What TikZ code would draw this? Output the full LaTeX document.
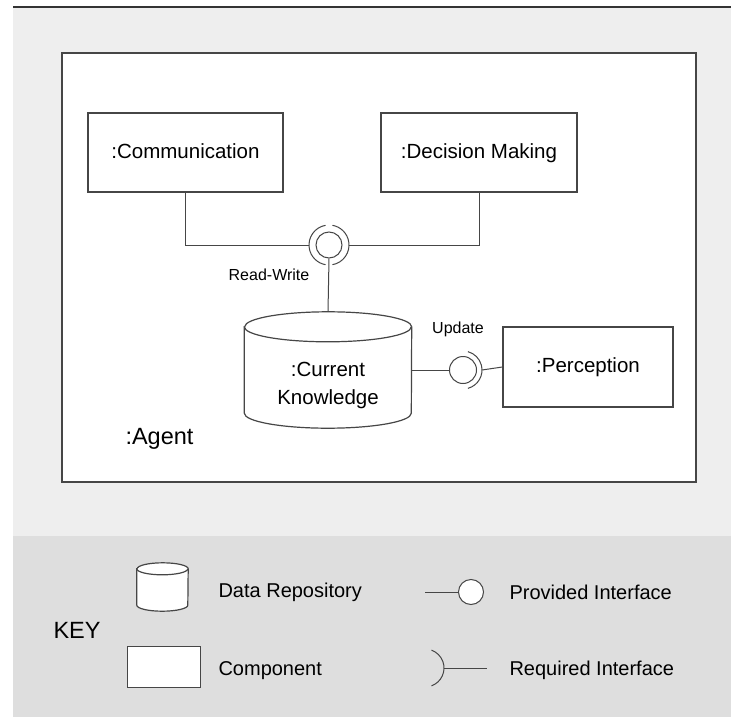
\documentclass[tikz,border=0pt]{standalone}
\usepackage{fontspec}
\setmainfont{Liberation Sans}
\usetikzlibrary{positioning}

\definecolor{panelgrey}{RGB}{238,238,238}
\definecolor{keygrey}{RGB}{222,222,222}
\definecolor{linegrey}{RGB}{70,70,70}

% cylinder outline round a node: node name, x radius, y radius of the caps
\newcommand{\drawrepo}[3]{%
    \filldraw[repoline] ([yshift=-#3]#1.north west) -- ([yshift=#3]#1.south west)
        arc[start angle=180, end angle=360, x radius=#2, y radius=#3]
        -- ([yshift=-#3]#1.north east)
        arc[start angle=0, end angle=180, x radius=#2, y radius=#3] -- cycle;
    \draw[repoline] ([yshift=-#3]#1.north west)
        arc[start angle=180, end angle=360, x radius=#2, y radius=#3];
}

\begin{document}
\begin{tikzpicture}[
        x=1pt, y=1pt,
        comp/.style={rectangle, draw=linegrey, fill=white, line width=1.3pt, inner sep=0pt, text height=15pt, text depth=4pt, font=\fontsize{20.5}{24}\selectfont},
        repo/.style={rectangle, inner sep=0pt},
        repoline/.style={draw=linegrey, fill=white, line width=1.2pt},
        ball/.style={circle, draw=linegrey, fill=white, line width=1pt, inner sep=0pt},
        wire/.style={draw=linegrey, line width=1pt},
        small/.style={font=\fontsize{16}{19}\selectfont},
        big/.style={font=\fontsize{23.5}{28}\selectfont, anchor=base west},
        keytext/.style={font=\fontsize{20}{24}\selectfont, anchor=base west}
    ]
    \useasboundingbox (0,0) rectangle (731,-717);
    % background panels
    \fill[panelgrey] (13,-7) rectangle (731,-536);
    \fill[keygrey] (13,-536) rectangle (731,-717);
    \draw[line width=1.5pt, black!80] (13,-7) -- (731,-7);

    % the agent and its parts
    \node[comp, minimum width=634pt, minimum height=429pt, line width=1.5pt] (agent) at (379,-267.5) {};
    \node[big] (agentname) at (122,-444) {:Agent};

    \node[comp, minimum width=195pt, minimum height=79pt] (comm) at (185.5,-152.5) {:Communication};
    \node[comp, minimum width=196pt, minimum height=79pt] (dec) at (479,-152.5) {:Decision Making};
    \node[comp, minimum width=170pt, minimum height=80pt] (perc) at (588,-367) {:Perception};
    \node[repo, minimum width=167pt, minimum height=116pt] (know) at (328,-370) {};
    \drawrepo{know}{83.5pt}{15pt}
    \node[font=\fontsize{20.5}{28}\selectfont, align=center] (knowtext) at (328,-385) {:Current\\Knowledge};

    % read-write interface
    \node[ball, minimum size=26pt] (rw) at (329,-245) {};
    \coordinate (rwl) at ([xshift=-20pt]rw.center);
    \coordinate (rwr) at ([xshift=20pt]rw.center);
    \draw[wire] ([shift={(100:20pt)}]rw.center) arc[start angle=100, end angle=260, radius=20pt];
    \draw[wire] ([shift={(-80:20pt)}]rw.center) arc[start angle=-80, end angle=80, radius=20pt];
    \node[small] (rwlabel) at (269,-275) {Read-Write};

    % update interface
    \node[ball, minimum size=27pt] (up) at (463,-370) {};
    \coordinate (upr) at ([xshift=19pt]up.center);
    \draw[wire] ([shift={(-75:19pt)}]up.center) arc[start angle=-75, end angle=75, radius=19pt];
    \node[small] (uplabel) at (458,-329) {Update};

    \draw[wire] (comm.south) |- (rwl);
    \draw[wire] (dec.south) |- (rwr);
    \draw[wire] (rw.south) -- (know.north);
    \draw[wire] (know.east) -- (up.west);
    \draw[wire] (upr) -- (perc.west);

    % key
    \node[big] (key) at (50,-638.5) {KEY};
    \node[repo, minimum width=51pt, minimum height=48pt] (keyrepo) at (162.5,-587) {};
    \drawrepo{keyrepo}{25.5pt}{6pt}
    \node[comp, minimum width=73pt, minimum height=41pt, line width=1pt] (keycomp) at (163.5,-666.5) {};
    \node[keytext] (repotext) at (215,-597) {Data Repository};
    \node[keytext] (comptext) at (215,-675) {Component};

    \coordinate (provstart) at (425,-592);
    \node[ball, minimum size=25pt] (provball) at (471,-592) {};
    \draw[wire, line width=0.8pt] (provstart) -- (provball.west);
    \node[keytext] (provtext) at (506,-599) {Provided Interface};

    \coordinate (reqsock) at (425,-668);
    \coordinate (reqend) at (487,-668);
    \draw[wire] ([shift={(-70:19pt)}]reqsock) arc[start angle=-70, end angle=70, radius=19pt];
    \draw[wire] ([xshift=19pt]reqsock) -- (reqend);
    \node[keytext] (reqtext) at (506,-675) {Required Interface};
\end{tikzpicture}
\end{document}
